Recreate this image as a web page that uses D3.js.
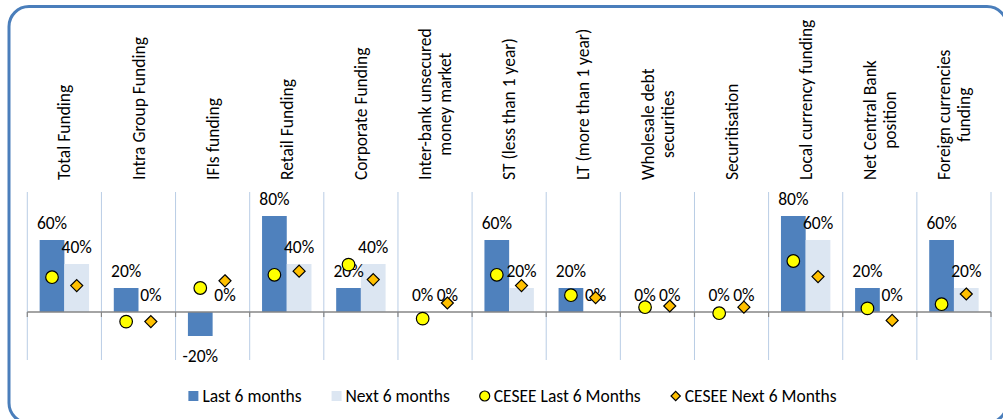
<!DOCTYPE html>
<html>
<head>
<meta charset="utf-8">
<script src="https://cdn.jsdelivr.net/npm/d3@7"></script>
<style>
  html, body { margin: 0; padding: 0; background: #ffffff; }
  svg { display: block; }
  text { font-family: Carlito, Lato, "Liberation Sans", sans-serif; fill: #000; }
</style>
</head>
<body>
<svg id="chart" width="1003" height="419"></svg>
<script>
// ---- Data ----
const categories = [
  ["Total Funding"],
  ["Intra Group Funding"],
  ["IFIs funding"],
  ["Retail Funding"],
  ["Corporate Funding"],
  ["Inter-bank unsecured", "money market"],
  ["ST (less than 1 year)"],
  ["LT (more than 1 year)"],
  ["Wholesale debt", "securities"],
  ["Securitisation"],
  ["Local currency funding"],
  ["Net Central Bank", "position"],
  ["Foreign currencies", "funding"]
];
const last6 = [0.60, 0.20, -0.20, 0.80, 0.20, 0.00, 0.60, 0.20, 0.00, 0.00, 0.80, 0.20, 0.60];
const next6 = [0.40, 0.00, 0.00, 0.40, 0.40, 0.00, 0.20, 0.00, 0.00, 0.00, 0.60, 0.00, 0.20];
const ceseeLast6 = [0.29, -0.08, 0.20, 0.31, 0.395, -0.055, 0.31, 0.14, 0.04, -0.01, 0.425, 0.03, 0.065];
const ceseeNext6 = [0.22, -0.08, 0.26, 0.34, 0.27, 0.075, 0.22, 0.12, 0.05, 0.04, 0.295, -0.07, 0.15];
const seriesNames = ["Last 6 months", "Next 6 months", "CESEE Last 6 Months", "CESEE Next 6 Months"];
const yDomain = [-0.4, 1.0];

// ---- Layout ----
const W = 1003, H = 419;
const plot = { left: 27.3, right: 991, top: 192, bottom: 360 };
const colLast = "#4f81bd", colNext = "#dce6f2", colCircle = "#ffff00", colDiamond = "#ffc000";
const gridCol = "#b9cde5", axisCol = "#868686", frameCol = "#4a7ebb";
const fontSize = 17.5;

const svg = d3.select("#chart");
svg.append("rect").attr("width", W).attr("height", H).attr("fill", "#fff");

// Frame
svg.append("rect")
  .attr("x", 9).attr("y", 6.5)
  .attr("width", 998).attr("height", 416.5)
  .attr("rx", 20).attr("ry", 20)
  .attr("fill", "none").attr("stroke", frameCol).attr("stroke-width", 3);

const catIdx = categories.map((d, i) => i);
const x = d3.scaleBand().domain(catIdx).range([plot.left, plot.right]).paddingInner(0).paddingOuter(0);
const xs = d3.scaleBand().domain(["last", "next"]).range([0, x.bandwidth()]).paddingInner(0).paddingOuter(0.5);
const y = d3.scaleLinear().domain(yDomain).range([plot.bottom, plot.top]);
const fmt0 = d3.format(".0%");
const fmt = v => fmt0(v).replace("\u2212", "-");

// Vertical gridlines at category boundaries
const bounds = catIdx.map(i => x(i)).concat([plot.right]);
svg.append("g").selectAll("line").data(bounds).join("line")
  .attr("x1", d => d).attr("x2", d => d)
  .attr("y1", plot.top).attr("y2", plot.bottom)
  .attr("stroke", gridCol).attr("stroke-width", 1);

// Bars
const gBars = svg.append("g");
gBars.selectAll("rect.last").data(last6).join("rect")
  .attr("x", (d, i) => x(i) + xs("last"))
  .attr("width", xs.bandwidth())
  .attr("y", d => y(Math.max(0, d)))
  .attr("height", d => Math.abs(y(d) - y(0)))
  .attr("fill", colLast);
gBars.selectAll("rect.next").data(next6).join("rect")
  .attr("x", (d, i) => x(i) + xs("next"))
  .attr("width", xs.bandwidth())
  .attr("y", d => y(Math.max(0, d)))
  .attr("height", d => Math.abs(y(d) - y(0)))
  .attr("fill", colNext);

// Zero axis with ticks
const axisG = svg.append("g").attr("transform", `translate(0,${y(0)})`);
axisG.append("line").attr("x1", plot.left).attr("x2", plot.right).attr("y1", 0).attr("y2", 0)
  .attr("stroke", axisCol).attr("stroke-width", 1.5);
axisG.selectAll("line.tick").data(bounds).join("line")
  .attr("x1", d => d).attr("x2", d => d).attr("y1", 0).attr("y2", 5)
  .attr("stroke", axisCol).attr("stroke-width", 1.2);

// Data labels
function labelY(d) { return d < 0 ? y(d) + 20 : y(d) - 17; }
const gLab = svg.append("g").attr("font-size", fontSize).attr("text-anchor", "middle");
gLab.selectAll("text.l").data(last6).join("text")
  .attr("x", (d, i) => x(i) + xs("last") + xs.bandwidth() / 2)
  .attr("y", d => labelY(d)).attr("dy", "0.35em").text(d => fmt(d));
gLab.selectAll("text.n").data(next6).join("text")
  .attr("x", (d, i) => x(i) + xs("next") + xs.bandwidth() / 2)
  .attr("y", d => labelY(d)).attr("dy", "0.35em").text(d => fmt(d));

// Markers
const diamond = d3.symbol().type(d3.symbolDiamond2).size(92);
const gM = svg.append("g");
gM.selectAll("circle").data(ceseeLast6).join("circle")
  .attr("cx", (d, i) => x(i) + xs("last") + xs.bandwidth() / 2)
  .attr("cy", d => y(d)).attr("r", 6.3)
  .attr("fill", colCircle).attr("stroke", "#000").attr("stroke-width", 1.2);
gM.selectAll("path").data(ceseeNext6).join("path")
  .attr("transform", (d, i) => `translate(${x(i) + xs("next") + xs.bandwidth() / 2},${y(d)})`)
  .attr("d", diamond)
  .attr("fill", colDiamond).attr("stroke", "#000").attr("stroke-width", 1.2);

// Category labels (rotated, reading upward, block bottom at y=180, lines centered)
const labelBase = 180, lineH = 20;
const gC = svg.append("g").attr("font-size", fontSize);
categories.forEach((lines, i) => {
  const cx = x(i) + x.bandwidth() / 2;
  const n = lines.length;
  const nodes = lines.map(ln => gC.append("text").attr("text-anchor", "middle").attr("dy", "0.35em").text(ln));
  const maxLen = d3.max(nodes, t => t.node().getComputedTextLength());
  nodes.forEach((t, j) => {
    const off = (j - (n - 1) / 2) * lineH;
    t.attr("transform", `translate(${cx + off},${labelBase - maxLen / 2}) rotate(-90)`);
  });
});

// Legend
const legY = 396;
const gL = svg.append("g").attr("font-size", fontSize);
let cursor = 0;
seriesNames.forEach((name, k) => {
  const g = gL.append("g");
  if (k === 0 || k === 1) {
    g.append("rect").attr("x", 0).attr("y", legY - 5).attr("width", 10).attr("height", 10)
      .attr("fill", k === 0 ? colLast : colNext);
  } else if (k === 2) {
    g.append("circle").attr("cx", 5).attr("cy", legY).attr("r", 5)
      .attr("fill", colCircle).attr("stroke", "#000").attr("stroke-width", 1.2);
  } else {
    g.append("path").attr("transform", `translate(5,${legY})`)
      .attr("d", d3.symbol().type(d3.symbolDiamond2).size(55))
      .attr("fill", colDiamond).attr("stroke", "#000").attr("stroke-width", 1.2);
  }
  const t = g.append("text").attr("x", 14).attr("y", legY).attr("dy", "0.35em").text(name);
  const w = 14 + t.node().getComputedTextLength();
  g.attr("transform", `translate(${cursor},0)`);
  cursor += w + 30;
});
const legW = cursor - 30;
gL.attr("transform", `translate(${512.5 - legW / 2},0)`);
</script>
</body>
</html>
